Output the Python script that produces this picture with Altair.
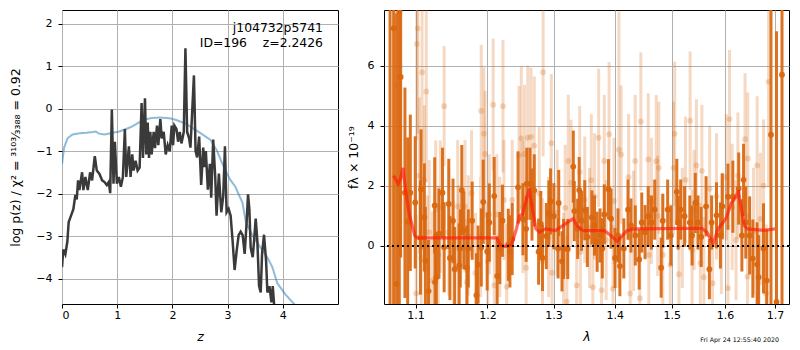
import altair as alt
import pandas as pd

FONT = "DejaVu Sans"

# ---------------- left panel: log p(z) ----------------
z_pz = [0.0, 0.024, 0.061, 0.097, 0.121, 0.164, 0.206, 0.242, 0.267, 0.291, 0.315, 0.364, 0.388,
        0.424, 0.467, 0.509, 0.545, 0.594, 0.63, 0.679, 0.727, 0.77, 0.812, 0.848, 0.873, 0.903,
        0.933, 0.958, 0.994, 1.03, 1.067, 1.103, 1.139, 1.164, 1.212, 1.242, 1.273, 1.297, 1.333,
        1.37, 1.406, 1.442, 1.467, 1.503, 1.527, 1.552, 1.576, 1.6, 1.624, 1.661, 1.685, 1.721,
        1.745, 1.782, 1.806, 1.842, 1.879, 1.915, 1.952, 1.988, 2.012, 2.036, 2.073, 2.103, 2.133,
        2.164, 2.206, 2.236, 2.267, 2.303, 2.327, 2.39, 2.42, 2.448, 2.485, 2.521, 2.558, 2.582,
        2.606, 2.642, 2.679, 2.703, 2.739, 2.776, 2.8, 2.842, 2.885, 2.921, 2.952, 2.982, 3.018,
        3.055, 3.091, 3.127, 3.164, 3.2, 3.236, 3.273, 3.309, 3.345, 3.37, 3.394, 3.418, 3.455,
        3.479, 3.509, 3.539, 3.57, 3.6, 3.624, 3.66, 3.697, 3.721, 3.758, 3.794, 3.818, 3.842, 3.87]
logp_pz = [-3.73, -3.32, -3.43, -3.13, -2.67, -2.52, -2.37, -2.03, -2.14, -1.69, -1.92, -1.5, -1.92,
           -1.61, -1.92, -1.5, -1.69, -1.12, -1.46, -1.54, -1.69, -1.73, -1.8, -1.73, -1.99, -0.02,
           -1.77, -0.78, -1.77, -1.61, -1.84, -1.61, -0.48, -1.61, -0.89, -1.61, -1.08, -1.46, -1.23,
           -1.46, -1.39, 0.13, -1.16, 0.24, -1.08, -0.33, -1.16, -0.55, -1.08, -0.55, -0.93, -0.4,
           -0.86, -0.25, -0.7, -0.55, -1.08, -0.86, -1.01, -0.4, -0.86, -0.4, -0.48, -0.78, -0.55,
           -0.82, -0.55, 1.42, -0.55, -0.7, -0.92, 0.78, -1.0, -1.15, -0.66, -1.8, -0.92, -1.38,
           -1.0, -1.91, -1.3, -2.1, -0.73, -1.61, -2.52, -1.53, -2.44, -2.06, -0.89, -2.44, -2.36,
           -2.52, -3.12, -3.8, -3.35, -2.98, -2.9, -2.98, -3.42, -2.67, -2.02, -2.36, -3.27, -3.5,
           -3.12, -2.59, -3.12, -4.18, -4.33, -3.42, -2.97, -3.58, -4.33, -4.18, -4.56, -4.18, -4.6, -5.0]

z_prior = [0.0, 0.036, 0.1, 0.19, 0.32, 0.44, 0.56, 0.61, 0.67, 0.77, 0.92, 1.04, 1.16, 1.24, 1.35,
           1.47, 1.62, 1.77, 1.95, 2.07, 2.25, 2.44, 2.51, 2.69, 2.81, 2.93, 3.05, 3.14, 3.27, 3.33,
           3.45, 3.6, 3.72, 3.81, 3.9, 4.05, 4.2, 4.3]
logp_prior = [-1.31, -0.93, -0.7, -0.61, -0.58, -0.57, -0.55, -0.54, -0.59, -0.61, -0.57, -0.54,
              -0.48, -0.44, -0.36, -0.27, -0.22, -0.21, -0.23, -0.27, -0.36, -0.52, -0.58, -0.74,
              -1.0, -1.38, -1.68, -1.84, -2.22, -2.67, -2.98, -3.28, -3.5, -3.73, -4.11, -4.38,
              -4.59, -4.75]

z_ticks = [0, 1, 2, 3, 4]
logp_ticks = [-4, -3, -2, -1, 0, 1, 2]
ANNOT = ["j104732p5741", "ID=196\u00a0\u00a0\u00a0\u00a0z=2.2426"]

# ---------------- right panel: spectrum ----------------
dark_lam = [1.0665, 1.0711, 1.0750, 1.0785, 1.0803, 1.0859, 1.0895, 1.0930, 1.0995, 1.1065, 1.1073,
            1.1117, 1.1131, 1.1174, 1.1257, 1.1262, 1.1280, 1.1316, 1.1364, 1.1387, 1.1451, 1.1467,
            1.1510, 1.1533, 1.1596, 1.1612, 1.1633, 1.1661, 1.1706, 1.1725, 1.1780, 1.1841, 1.1865,
            1.1911, 1.1939, 1.1996, 1.2028, 1.2099, 1.2142, 1.2181, 1.2220, 1.2307, 1.2331, 1.2365,
            1.2453, 1.2527, 1.2576, 1.2586, 1.2635, 1.2665, 1.2700, 1.2767, 1.2801, 1.2827, 1.2887,
            1.2927, 1.2953, 1.3005, 1.3072, 1.3082, 1.3134, 1.3159, 1.3226, 1.3315, 1.3331, 1.3385,
            1.3410, 1.3449, 1.3501, 1.3544, 1.3618, 1.3661, 1.3705, 1.3753, 1.3791, 1.3824, 1.3895,
            1.3938, 1.4005, 1.4055, 1.4088, 1.4155, 1.4227, 1.4278, 1.4353, 1.4421, 1.4466, 1.4524,
            1.4580, 1.4637, 1.4695, 1.4810, 1.4839, 1.4927, 1.4985, 1.5093, 1.5118, 1.5164, 1.5236,
            1.5333, 1.5375, 1.5435, 1.5485, 1.5546, 1.5638, 1.5701, 1.5743, 1.5837, 1.5912, 1.5950,
            1.6058, 1.6153, 1.6268, 1.6331, 1.6364, 1.6408, 1.6485, 1.6549, 1.6635, 1.6666, 1.6764,
            1.6831, 1.6917, 1.7031, 1.7144]
dark_flux = [9.0, 7.24, -1.26, 7.8, 5.62, 1.77, 0.81, 1.77, 1.45, 0.28, 1.88,
             0.95, -0.5, -1.5, 1.35, -1.2, -1.04, 0.41, 1.77, -0.04, 1.4, -0.4,
             0.84, -0.77, -0.65, -0.08, 1.86, 0.52, -0.72, -0.08, 0.84, -1.64, -0.62,
             -0.05, 1.47, -0.18, 0.78, 1.66, -1.0, -0.07, 0.84, 0.04, -0.18, 0.23,
             1.95, 0.89, 0.57, 2.07, 2.07, 1.38, 1.85, -0.19, 0.73, -0.4, 0.33,
             1.08, 1.48, 0.99, -0.08, 1.43, -0.51, -0.1, -0.1, 2.64, 1.16, 0.57,
             1.86, 0.84, 1.19, 0.3, 0.95, 0.68, 0.14, 0.35, -0.08, 1.05, 1.89,
             0.91, -0.4, 0.35, -0.67, -0.08, 1.21, 0.68, 0.35, -0.45, 0.78, 0.46,
             0.99, 0.78, 1.21, -0.72, 0.84, 1.21, 0.35, 1.8, 0.78, 1.21, 0.99,
             0.78, 0.35, 1.43, 0.78, 0.3, 1.32, -0.77, 0.78, 1.02, 0.35, 1.32,
             1.64, 1.64, 1.91, 0.35, 2.2, 0.78, 0.35, -0.42, -0.61, -1.04, -0.08,
             -1.15, 3.7, -1.86, 5.7]
dark_err = [12, 10, 9, 10, 6, 3.5, 2.8, 2.6, 2.2, 1.9, 2.0,
            1.8, 1.8, 1.7, 1.6, 1.6, 1.5, 1.5, 1.5, 1.5, 1.5, 1.4,
            1.4, 1.4, 1.4, 1.3, 1.5, 1.3, 1.4, 1.3, 1.3, 1.4, 1.3,
            1.3, 1.4, 1.3, 1.3, 1.3, 1.3, 1.2, 1.2, 1.2, 1.2, 1.2,
            1.2, 1.2, 1.1, 1.2, 1.2, 1.2, 1.2, 1.1, 1.1, 1.1, 1.1,
            1.1, 1.1, 1.1, 1.0, 1.1, 1.0, 1.0, 1.0, 1.2, 1.0, 1.0,
            1.1, 1.0, 1.0, 1.0, 0.9, 1.0, 1.0, 0.9, 1.0, 1.0, 1.0,
            1.0, 1.0, 0.9, 1.0, 1.0, 1.0, 0.9, 1.0, 1.0, 1.0, 0.9,
            1.0, 0.9, 1.0, 1.0, 0.9, 1.0, 1.0, 1.1, 0.9, 1.0, 1.0,
            0.9, 1.0, 1.0, 0.9, 1.0, 1.0, 1.0, 0.9, 1.1, 1.1, 1.1,
            1.1, 1.2, 1.2, 1.2, 1.2, 1.2, 1.3, 1.3, 1.4, 1.4, 1.5,
            1.7, 9, 9, 10]

light_lam = [1.0750, 1.1008, 1.1016, 1.1030, 1.1051, 1.1075, 1.1087, 1.1117, 1.1143, 1.1160, 1.1183,
             1.1227, 1.1271, 1.1307, 1.1334, 1.1387, 1.1451, 1.1519, 1.1575, 1.1587, 1.1678, 1.1702,
             1.1725, 1.1771, 1.1827, 1.1901, 1.1910, 1.1948, 1.1966, 1.2005, 1.2028, 1.2084, 1.2099,
             1.2138, 1.2181, 1.2228, 1.2242, 1.2283, 1.2365, 1.2468, 1.2502, 1.2527, 1.2551, 1.2576,
             1.2601, 1.2650, 1.2700, 1.2776, 1.2827, 1.2837, 1.2922, 1.2965, 1.2976, 1.3057, 1.3159,
             1.3185, 1.3211, 1.3235, 1.3278, 1.3369, 1.3419, 1.3430, 1.3501, 1.3580, 1.3608, 1.3634,
             1.3661, 1.3730, 1.3779, 1.3824, 1.3856, 1.3905, 1.3971, 1.3988, 1.4071, 1.4109, 1.4237,
             1.4265, 1.4323, 1.4352, 1.4432, 1.4450, 1.4580, 1.4590, 1.4636, 1.4722, 1.4747, 1.4768,
             1.4839, 1.4975, 1.5033, 1.5055, 1.5132, 1.5194, 1.5252, 1.5338, 1.5375, 1.5412, 1.5456,
             1.5529, 1.5559, 1.5596, 1.5706, 1.5761, 1.5837, 1.5930, 1.6025, 1.6058, 1.6088, 1.6140,
             1.6216, 1.6252, 1.6394, 1.6442, 1.6448, 1.6563, 1.6636, 1.6701, 1.6764, 1.6818, 1.6868]
light_flux = [5.35, -1.58, 6.72, 7.24, 2.34, -0.4, 5.78, 2.18, 5.14, -0.72, 0.46,
              -1.15, 1.21, -0.3, 1.31, 4.65, 0.46, -0.51, 1.32, -0.08, 1.32, -1.2,
              0.35, 1.75, -0.9, 0.3, 4.49, 3.74, 3.06, -0.51, 1.05, 4.7, -1.31,
              1.05, 0.3, 4.65, 1.53, -1.36, 1.53, 3.02, 3.58, 1.3, 3.06, -0.72,
              3.6, 3.63, 3.34, 1.75, -0.51, 5.78, 0.3, 3.42, -0.89, 1.1, -0.9,
              1.27, -1.85, 2.83, 2.1, -1.31, 2.46, -0.2, 1.54, 0.6, 2.19, -1.37,
              1.65, 3.6, -1.47, 2.83, 0.2, 3.72, -1.42, 1.5, 3.2, 3.04, 2.29,
              -1.58, 0.5, 2.83, -1.74, 4.14, 2.88, -0.3, 1.5, 2.82, 1.0, 2.6,
              -0.3, -0.62, 2.6, 3.73, -0.94, 0.6, 2.2, 4.17, -0.13, 1.2, 2.68,
              -0.57, 2.5, -1.04, 1.9, -1.24, 1.65, 0.4, 2.29, -1.4, 4.22, 1.3,
              0.2, 2.34, 3.55, -1.02, 2.91, 0.5, 2.68, 0.9, 2.01, -1.58, 5.46]
light_err = [3.5, 2.6, 3.2, 3.5, 2.6, 2.5, 3.0, 2.5, 3.0, 2.4, 2.4,
             2.3, 2.3, 2.3, 2.2, 2.0, 2.1, 2.0, 2.2, 2.1, 2.2, 2.1,
             2.0, 2.1, 2.0, 2.0, 2.2, 2.2, 2.1, 2.0, 2.0, 2.2, 2.1,
             2.0, 2.0, 2.2, 2.0, 2.1, 2.0, 2.3, 2.4, 2.2, 2.3, 2.1,
             2.4, 2.3, 2.3, 2.2, 2.1, 2.8, 2.0, 2.3, 2.1, 2.1, 2.0,
             2.1, 2.2, 2.2, 2.1, 2.1, 2.2, 2.0, 2.1, 2.0, 2.2, 2.1,
             2.1, 2.3, 2.1, 2.2, 2.0, 2.4, 2.1, 2.1, 4.6, 2.3, 2.1,
             2.1, 2.0, 2.2, 2.2, 2.3, 2.2, 2.0, 2.1, 2.2, 2.0, 2.2,
             2.0, 2.0, 2.2, 2.4, 2.0, 2.0, 2.1, 2.3, 2.0, 2.0, 2.2,
             2.0, 2.2, 2.0, 2.1, 2.1, 2.1, 2.0, 2.1, 2.1, 2.3, 2.1,
             2.0, 2.1, 2.2, 2.1, 2.2, 2.1, 2.3, 2.2, 2.2, 2.3, 3.5]

model_lam = [1.0711, 1.0770, 1.0803, 1.0833, 1.0871, 1.0922, 1.0990, 1.1030, 1.1131, 1.2138, 1.2186,
             1.2258, 1.2355, 1.2429, 1.2477, 1.2520, 1.2566, 1.2625, 1.2650, 1.2726, 1.2776, 1.2877,
             1.3031, 1.3185, 1.3315, 1.3369, 1.3474, 1.3824, 1.3934, 1.4043, 1.4210, 1.4323, 1.5559,
             1.5650, 1.5775, 1.5868, 1.5962, 1.6025, 1.6120, 1.6216, 1.6260, 1.6312, 1.6376, 1.6442,
             1.6767, 1.7000]
model_flux = [2.34, 2.07, 2.25, 2.6, 1.79, 0.99, 0.34, 0.26, 0.27, 0.27, 0.03,
              -0.02, 0.03, 0.57, 1.0, 1.05, 1.43, 1.91, 1.5, 0.57, 0.46, 0.57,
              0.51, 0.73, 0.91, 0.68, 0.51, 0.51, 0.35, 0.16, 0.51, 0.57, 0.59,
              0.46, 0.08, 0.57, 0.78, 0.94, 1.42, 1.64, 1.85, 1.32, 0.68, 0.57,
              0.52, 0.57]

lam_ticks = [1.1, 1.2, 1.3, 1.4, 1.5, 1.6, 1.7]
flux_ticks = [0, 2, 4, 6]
STAMP = "Fri Apr 24 12:55:40 2020"

ORANGE = "#d9670f"

# ---------------- build left ----------------
LW, LH = 276, 294
pz_df = pd.DataFrame({"z": z_pz, "logp": logp_pz})
prior_df = pd.DataFrame({"z": z_prior, "logp": logp_prior})

lx = alt.X("z:Q", scale=alt.Scale(domain=[0, 5], nice=False, zero=False),
           axis=alt.Axis(values=z_ticks, format="d", title="z", titleFontStyle="italic"))
ly = alt.Y("logp:Q", scale=alt.Scale(domain=[-4.6, 2.32], nice=False, zero=False),
           axis=alt.Axis(values=logp_ticks, format="d", titlePadding=13,
                         title="log p(z) / χ² = ³¹⁰³⁄₃₃₈₈ = 0.92"))

prior_line = alt.Chart(prior_df).mark_line(color="#1f77b4", opacity=0.5, strokeWidth=2, clip=True).encode(
    x=lx, y=ly, order="z:Q")
pz_line = alt.Chart(pz_df).mark_line(color="#3a3a3a", strokeWidth=2.5, clip=True).encode(
    x=lx, y=ly, order="z:Q")
ann1 = alt.Chart(pd.DataFrame({"t": [ANNOT[0]]})).mark_text(
    align="right", baseline="middle", font=FONT, fontSize=12.4, color="black").encode(
    text="t:N", x=alt.value(LW - 15), y=alt.value(18))
ann2 = alt.Chart(pd.DataFrame({"t": [ANNOT[1]]})).mark_text(
    align="right", baseline="middle", font=FONT, fontSize=12.4, color="black").encode(
    text="t:N", x=alt.value(LW - 15), y=alt.value(33))

left = alt.layer(prior_line, pz_line, ann1, ann2).properties(width=LW, height=LH)

# ---------------- build right ----------------
RW, RH = 405, 294
dark_df = pd.DataFrame({"lam": dark_lam, "flux": dark_flux, "err": dark_err})
light_df = pd.DataFrame({"lam": light_lam, "flux": light_flux, "err": light_err})
model_df = pd.DataFrame({"lam": model_lam, "flux": model_flux})
zero_df = pd.DataFrame({"flux": [0.0]})

xs = alt.Scale(type="log", domain=[1.0587, 1.729], nice=False, zero=False)
ys = alt.Scale(domain=[-1.93, 7.85], nice=False, zero=False)
xaxis = alt.Axis(values=lam_ticks, format=".1f", title="λ", titleFontStyle="italic")
yaxis = alt.Axis(values=flux_ticks, format="d", title="fλ × 10⁻¹⁹", titlePadding=7)
rx = alt.X("lam:Q", scale=xs, axis=xaxis)
ry = alt.Y("flux:Q", scale=ys, axis=yaxis)
rlo = alt.Y("lo:Q", scale=ys, axis=yaxis)


def bars(df, opacity):
    return alt.Chart(df).transform_calculate(
        lo="datum.flux - datum.err", hi="datum.flux + datum.err"
    ).mark_rule(color=ORANGE, opacity=opacity, strokeWidth=3, clip=True).encode(
        x=rx, y=rlo, y2="hi:Q")


def dots(df, opacity):
    return alt.Chart(df).mark_circle(color=ORANGE, opacity=opacity, size=34, clip=True).encode(
        x=rx, y=ry)


model_line = alt.Chart(model_df).mark_line(color="#ff1a0a", opacity=0.65, strokeWidth=3.2, clip=True).encode(
    x=rx, y=ry, order="lam:Q")
zero_line = alt.Chart(zero_df).mark_rule(color="black", strokeWidth=2, strokeDash=[2, 3]).encode(y=ry)
stamp = alt.Chart(pd.DataFrame({"t": [STAMP]})).mark_text(
    align="right", baseline="middle", font=FONT, fontSize=6.3, color="black").encode(
    text="t:N", x=alt.value(RW - 10), y=alt.value(RH + 36))

right = alt.layer(bars(light_df, 0.25), dots(light_df, 0.25), bars(dark_df, 0.92), dots(dark_df, 0.95),
                  model_line, zero_line, stamp).properties(width=RW, height=RH)

chart = alt.hconcat(left, right, spacing=46, bounds="flush").properties(
    padding={"left": 1, "top": 1, "right": 0, "bottom": 0}
).configure_view(stroke="black", strokeWidth=1).configure_axis(
    domain=False, grid=True, gridColor="#b0b0b0", gridWidth=1, tickColor="black", tickSize=4,
    labelFont=FONT, labelFontSize=11, labelColor="black", labelPadding=6,
    titleFont=FONT, titleFontSize=12.5, titleFontWeight="normal", titleColor="black"
).configure_axisX(labelPadding=1, titlePadding=10)

chart.save("out.html", embed_options={"renderer": "svg", "actions": False})
